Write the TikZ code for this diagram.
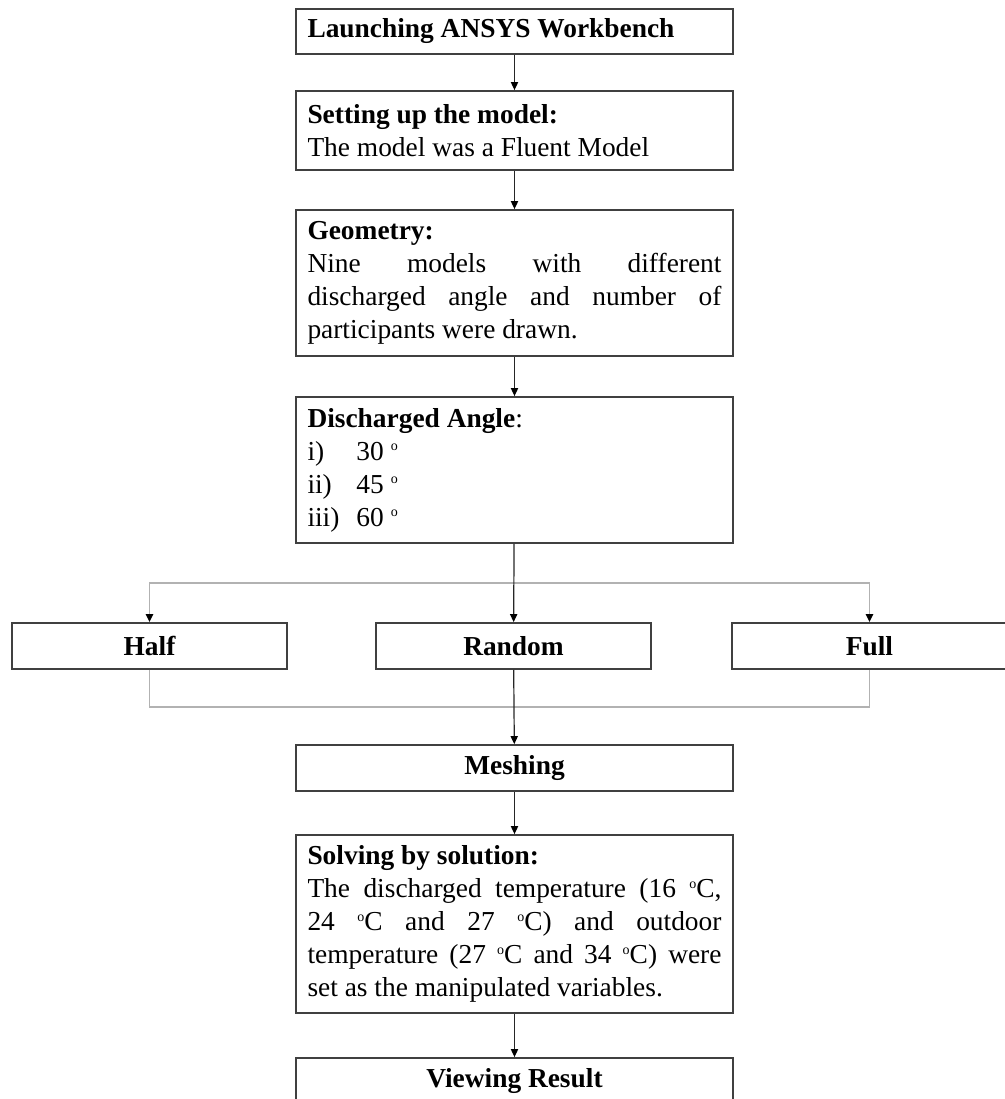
\documentclass[tikz,border=0pt]{standalone}
\usepackage{fontspec}
\setmainfont{Liberation Serif}
\usetikzlibrary{arrows.meta}
\newcommand{\degsup}{\raisebox{0.75ex}{\fontsize{7pt}{7pt}\selectfont o}}
\tikzset{
  flowbox/.style={draw=black!75, line width=0.9pt, text width=207pt, inner xsep=5.75pt, inner ysep=4pt,
                  align=justify, font=\fontsize{13.7pt}{16.5pt}\selectfont},
  choicebox/.style={draw=black!75, line width=0.9pt, minimum width=137.5pt, minimum height=23pt,
                    inner sep=0pt, font=\fontsize{13.7pt}{16.5pt}\selectfont\bfseries},
  link/.style={black!85, line width=0.6pt, -{Triangle[length=4pt,width=3.6pt,black]}},
  glink/.style={black!30, line width=0.9pt}
}

\begin{document}
\begin{tikzpicture}[x=0.5pt, y=-0.5pt]
    \useasboundingbox (0, 0) rectangle (1005, 1099);
    \clip (0, 0) rectangle (1005, 1099);
    % UPPER STEPS
    \node[flowbox, minimum height=22.5pt] (launch) at (514.5, 31.5) {\textbf{Launching ANSYS Workbench}};
    \node[flowbox, minimum height=39.5pt] (setup) at (514.5, 130.5) {\textbf{Setting up the model:}\\The model was a Fluent Model};
    \node[flowbox, minimum height=73pt] (geometry) at (514.5, 283) {\textbf{Geometry:}\newline
        Nine models with different\linebreak discharged angle and number of\linebreak participants were drawn.};
    \node[flowbox, minimum height=73pt, align=flush left] (angle) at (514.5, 470) {\textbf{Discharged Angle}:\\
        \makebox[24.5pt][l]{i)}30 \degsup\\
        \makebox[24.5pt][l]{ii)}45 \degsup\\
        \makebox[24.5pt][l]{iii)}60 \degsup};
    % PARTICIPANT ARRANGEMENT
    \node[choicebox] (half) at (149.5, 646) {Half};
    \node[choicebox] (random) at (513.5, 646) {Random};
    \node[choicebox] (full) at (869.5, 646) {Full};
    \coordinate (split) at (513.5, 583);
    \coordinate (merge) at (513.5, 707);
    % LOWER STEPS
    \node[flowbox, minimum height=23pt, align=flush center] (meshing) at (514.5, 768) {\textbf{Meshing}};
    \node[flowbox, minimum height=89pt] (solving) at (514.5, 924) {\textbf{Solving by solution:}\newline
        The discharged temperature (16 \degsup C,\linebreak 24 \degsup C and 27 \degsup C) and outdoor\linebreak
        temperature (27 \degsup C and 34 \degsup C) were\linebreak set as the manipulated variables.};
    \node[flowbox, minimum height=23pt, align=flush center] (viewing) at (514.5, 1081) {\textbf{Viewing Result}};
    % CONNECTORS
    \draw[link] (launch) -- (setup);
    \draw[link] (setup) -- (geometry);
    \draw[link] (geometry) -- (angle);
    \draw[glink, -{Triangle[length=4pt,width=3.6pt,black]}] (split) -| (half);
    \draw[glink, -{Triangle[length=4pt,width=3.6pt,black]}] (split) -| (full);
    \draw[link] (angle) -- (random);
    \draw[glink] (half) |- (merge);
    \draw[glink] (full) |- (merge);
    \draw[link] (random) -- (meshing);
    \draw[link] (meshing) -- (solving);
    \draw[link] (solving) -- (viewing);
\end{tikzpicture}
\end{document}
